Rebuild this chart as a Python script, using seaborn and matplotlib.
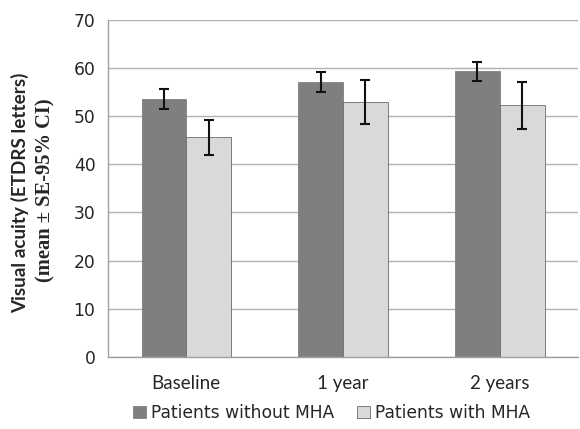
import matplotlib
matplotlib.use("Agg")
import matplotlib.pyplot as plt
import seaborn as sns
import pandas as pd

# values
timepoints = ["Baseline", "1 year", "2 years"]
groups = ["Patients without MHA", "Patients with MHA"]
mean_without = [53.6, 57.1, 59.4]
mean_with = [45.6, 53.0, 52.3]
ci_without = [2.0, 2.1, 1.95]
ci_with = [3.6, 4.5, 4.9]

colors = ["#7f7f7f", "#d9d9d9"]

df = pd.DataFrame({
    "time": timepoints * 2,
    "group": [groups[0]] * 3 + [groups[1]] * 3,
    "va": mean_without + mean_with,
    "err": ci_without + ci_with,
})

sns.set_style("white")
plt.rcParams["font.family"] = ["DejaVu Sans"]

fig = plt.figure(figsize=(5.8, 4.29), dpi=100)
ax = fig.add_axes([0.186, 0.1685, 0.811, 0.7845])

sns.barplot(data=df, x="time", y="va", hue="group", order=timepoints,
            hue_order=groups, palette=colors, width=0.571, gap=0,
            errorbar=None, ax=ax, legend=False, zorder=2)

# edges + error bars from the bars seaborn drew
for i, patch in enumerate(ax.patches):
    g = i // 3
    patch.set_edgecolor("#808080" if g == 0 else "#6a6a6a")
    patch.set_linewidth(0.6)
    sub = df[df["group"] == groups[g]]
    xc = patch.get_x() + patch.get_width() / 2
    ax.errorbar(xc, patch.get_height(), yerr=sub["err"].iloc[i % 3],
                fmt="none", ecolor="#111111", elinewidth=1.5,
                capsize=3.7, capthick=1.5, zorder=3)

ax.set_ylim(0, 70)
ax.set_yticks(range(0, 71, 10))
ax.set_xlim(-0.5, 2.5)
ax.yaxis.grid(True, color="#b0b0b0", linewidth=1.0, zorder=0)
ax.set_axisbelow(True)
ax.set_xlabel("")
ax.set_ylabel("")

for side in ["top", "right"]:
    ax.spines[side].set_visible(False)
for side in ["left", "bottom"]:
    ax.spines[side].set_color("#a0a0a0")
    ax.spines[side].set_linewidth(1.0)

ax.tick_params(axis="y", which="major", direction="out", length=5,
               color="#a0a0a0", labelsize=12.3, pad=4)
ax.set_xticks([-0.5, 0.5, 1.5, 2.5], minor=True)
ax.tick_params(axis="x", which="major", length=0, pad=13)
ax.tick_params(axis="x", which="minor", direction="out", length=5,
               color="#a0a0a0")
for lab in ax.get_xticklabels():
    lab.set_fontfamily("Lato")
    lab.set_fontsize(13.5)

fig.text(0.034, 0.551, "Visual acuity (ETDRS letters)", rotation=90,
         ha="center", va="center", fontsize=13.6, fontweight="bold",
         family="Lato")
fig.text(0.079, 0.557, "(mean \u00b1 SE-95% CI)", rotation=90,
         ha="center", va="center", fontsize=14.8, fontweight="bold",
         family="Liberation Serif")

handles = [plt.Rectangle((0, 0), 1, 1, facecolor=c,
                         edgecolor="#808080" if k == 0 else "#6a6a6a",
                         linewidth=0.6) for k, c in enumerate(colors)]
fig.legend(handles, groups, loc="center", ncol=2,
           bbox_to_anchor=(0.5716, 0.037), frameon=False, fontsize=12.3,
           handlelength=0.75, handleheight=0.75, handletextpad=0.3,
           columnspacing=1.3, borderaxespad=0)

fig.savefig("out.png", dpi=100)
